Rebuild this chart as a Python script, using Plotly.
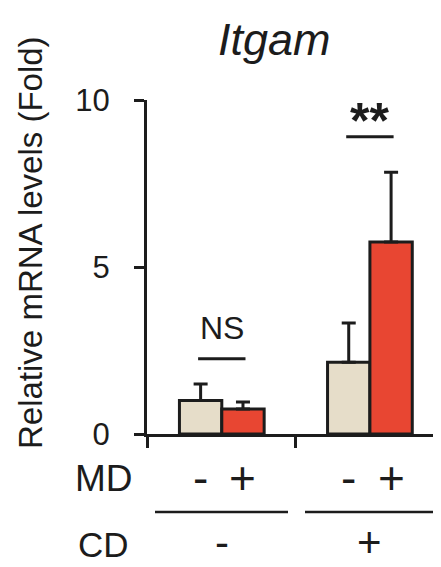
import plotly.graph_objects as go

# ---- data ----
groups = [0, 1]                      # CD- , CD+
md_minus_vals = [1.0, 2.15]
md_minus_err = [0.5, 1.17]
md_plus_vals = [0.75, 5.75]
md_plus_err = [0.21, 2.09]
y_ticks = [0, 5, 10]
sig_labels = ["NS", "**"]
sig_heights = [2.25, 8.9]
md_signs = ["-", "+"]
cd_signs = ["-", "+"]

DARK = "#1c1c1c"
BEIGE = "#E6DDC9"
RED = "#E84632"
FONT = "Arial, Liberation Sans, sans-serif"
BW = 0.286

OFF = 8  # default body margin of the page
W, H = 441 - OFF, 567 - OFF
# plot area in reference pixels: x 147..441, y 100..434
L = 147 - OFF
T = 100 - OFF
R = 0
B = H - (434 - OFF)
PH = H - T - B
PW = W - L - R


def py(p):  # reference pixel y -> paper y
    return (434 - p) / PH


def px(p):  # reference pixel x -> paper x
    return (p - 147) / PW


fig = go.Figure()
fig.add_trace(go.Bar(
    x=groups, y=md_minus_vals, width=BW, offset=-BW,
    marker=dict(color=BEIGE, line=dict(color=DARK, width=3)),
    error_y=dict(type="data", symmetric=False, array=md_minus_err,
                 arrayminus=[0, 0], thickness=3, width=7, color=DARK),
    showlegend=False))
fig.add_trace(go.Bar(
    x=groups, y=md_plus_vals, width=BW, offset=0,
    marker=dict(color=RED, line=dict(color=DARK, width=3)),
    error_y=dict(type="data", symmetric=False, array=md_plus_err,
                 arrayminus=[0, 0], thickness=3, width=7, color=DARK),
    showlegend=False))

annotations = []
shapes = []


def txt(x, y, text, size, xref="paper", yref="paper", **kw):
    d = dict(x=x, y=y, xref=xref, yref=yref, text=text, showarrow=False,
             xanchor="center", yanchor="middle",
             font=dict(size=size, color=DARK, family=FONT))
    d.update(kw)
    annotations.append(d)


# significance
for g, lab, h in zip(groups, sig_labels, sig_heights):
    shapes.append(dict(type="line", xref="x", yref="y",
                       x0=g - 0.16, x1=g + 0.16, y0=h, y1=h,
                       line=dict(color=DARK, width=3)))
    if lab == "**":
        txt(g, h, "<b>**</b>", 50, xref="x", yref="y", yanchor="bottom", yshift=-14)
    else:
        txt(g, h, lab, 32, xref="x", yref="y", yanchor="bottom", yshift=11)

# MD row
md_y = py(478)
for g in groups:
    txt(g - BW / 2, md_y, md_signs[0], 46, xref="x")
    txt(g + BW / 2, md_y, md_signs[1], 46, xref="x")
txt(px(104), md_y, "MD", 37)
# CD row
for g, s in zip(groups, cd_signs):
    txt(g, py(542), s, 42, xref="x")
txt(px(103), py(544), "CD", 35)
# group lines
for x0, x1 in [(155, 288), (305, 439)]:
    shapes.append(dict(type="line", xref="paper", yref="paper",
                       x0=px(x0), x1=px(x1), y0=py(512), y1=py(512),
                       line=dict(color=DARK, width=2.5)))

# y title
txt(px(30), py(243), "Relative mRNA levels (Fold)", 33, textangle=-90)
# main title
txt(px(274), py(40), "<i>Itgam</i>", 45)

fig.update_layout(
    width=W, height=H,
    margin=dict(l=L, r=R, t=T, b=B, pad=0),
    paper_bgcolor="white", plot_bgcolor="white",
    barmode="overlay",
    annotations=annotations, shapes=shapes,
    xaxis=dict(range=[-0.505, 1.48], showgrid=False, zeroline=False,
               showline=True, linecolor=DARK, linewidth=3,
               tickmode="array", tickvals=[-0.5, 0.5], ticks="outside",
               ticklen=11, tickwidth=3, tickcolor=DARK, showticklabels=False),
    yaxis=dict(range=[0, 10], showgrid=False, zeroline=False,
               showline=True, linecolor=DARK, linewidth=3,
               tickmode="array", tickvals=y_ticks, ticks="outside",
               ticklen=10, tickwidth=3, tickcolor=DARK,
               ticklabelstandoff=18,
               tickfont=dict(size=31, color=DARK, family=FONT)),
)

fig.write_html("out.html")
